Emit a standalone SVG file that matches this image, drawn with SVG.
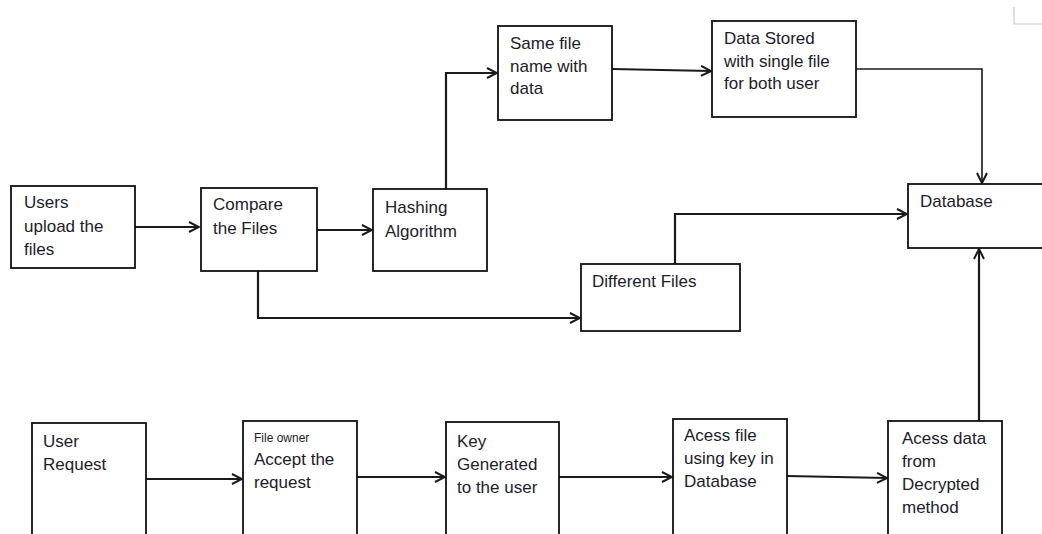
<svg xmlns="http://www.w3.org/2000/svg" width="1042" height="534" viewBox="0 0 1042 534">
  <style>
    .box { fill: #ffffff; stroke: #111111; stroke-width: 1.8; }
    .lbl { font-family: "Liberation Sans", Arial, sans-serif; font-size: 17px; fill: #1c1c2a; }
    .small { font-size: 12px; }
    .conn { fill: none; stroke: #1a1a1a; stroke-width: 2.2; }
    .thin { fill: none; stroke: #1a1a1a; stroke-width: 1.6; }
    .corner { fill: none; stroke: #c8c8c8; stroke-width: 1.2; }
  </style>
  <defs>
    <marker id="arrow" viewBox="0 0 12 12" refX="11" refY="6" markerWidth="12" markerHeight="12" markerUnits="userSpaceOnUse" orient="auto">
      <path d="M1,1 L11,6 L1,11" fill="none" stroke="#1a1a1a" stroke-width="2"/>
    </marker>
  </defs>

  <rect width="1042" height="534" fill="#ffffff"/>

  <!-- page corner mark -->
  <path class="corner" d="M1014,7 L1014,24 L1042,24"/>

  <!-- connectors -->
  <g id="connectors">
    <path class="conn" d="M135,227 L199,227" marker-end="url(#arrow)"/>
    <path class="conn" d="M314,230 L372,230" marker-end="url(#arrow)"/>
    <path class="conn" d="M446,189 L446,73 L497,73" marker-end="url(#arrow)"/>
    <path class="conn" d="M612,69 L711,71" marker-end="url(#arrow)"/>
    <path class="thin" d="M856,69 L982,69 L982,183" marker-end="url(#arrow)"/>
    <path class="conn" d="M258,271 L258,318 L580,318" marker-end="url(#arrow)"/>
    <path class="conn" d="M675,264 L675,214 L907,214" marker-end="url(#arrow)"/>
    <path class="conn" d="M979,421 L979,249" marker-end="url(#arrow)"/>
    <path class="conn" d="M146,479 L242,479" marker-end="url(#arrow)"/>
    <path class="conn" d="M357,477 L445,477" marker-end="url(#arrow)"/>
    <path class="conn" d="M559,477 L672,477" marker-end="url(#arrow)"/>
    <path class="conn" d="M787,476 L887,478" marker-end="url(#arrow)"/>
  </g>

  <g id="users-upload">
    <rect class="box" x="11" y="186" width="124" height="82"/>
    <text class="lbl" x="24" y="208">Users</text>
    <text class="lbl" x="24" y="232">upload the</text>
    <text class="lbl" x="24" y="255">files</text>
  </g>

  <g id="compare-files">
    <rect class="box" x="201" y="188" width="116" height="83"/>
    <text class="lbl" x="213" y="210">Compare</text>
    <text class="lbl" x="213" y="234">the Files</text>
  </g>

  <g id="hashing">
    <rect class="box" x="373" y="189" width="114" height="82"/>
    <text class="lbl" x="385" y="213">Hashing</text>
    <text class="lbl" x="385" y="237">Algorithm</text>
  </g>

  <g id="same-file">
    <rect class="box" x="498" y="26" width="114" height="94"/>
    <text class="lbl" x="510" y="49">Same file</text>
    <text class="lbl" x="510" y="72">name with</text>
    <text class="lbl" x="510" y="94">data</text>
  </g>

  <g id="data-stored">
    <rect class="box" x="712" y="21" width="144" height="96"/>
    <text class="lbl" x="724" y="44">Data Stored</text>
    <text class="lbl" x="724" y="67">with single file</text>
    <text class="lbl" x="724" y="89">for both user</text>
  </g>

  <g id="different-files">
    <rect class="box" x="581" y="264" width="159" height="67"/>
    <text class="lbl" x="592" y="287">Different Files</text>
  </g>

  <g id="database">
    <rect class="box" x="908" y="184" width="150" height="64"/>
    <text class="lbl" x="920" y="207">Database</text>
  </g>

  <g id="user-request">
    <rect class="box" x="32" y="423" width="114" height="130"/>
    <text class="lbl" x="43" y="447">User</text>
    <text class="lbl" x="43" y="470">Request</text>
  </g>

  <g id="file-owner">
    <rect class="box" x="243" y="421" width="114" height="130"/>
    <text class="lbl small" x="254" y="442">File owner</text>
    <text class="lbl" x="254" y="465">Accept the</text>
    <text class="lbl" x="254" y="488">request</text>
  </g>

  <g id="key-generated">
    <rect class="box" x="446" y="422" width="113" height="130"/>
    <text class="lbl" x="457" y="447">Key</text>
    <text class="lbl" x="457" y="470">Generated</text>
    <text class="lbl" x="457" y="493">to the user</text>
  </g>

  <g id="access-file">
    <rect class="box" x="673" y="419" width="114" height="130"/>
    <text class="lbl" x="684" y="441">Acess file</text>
    <text class="lbl" x="684" y="464">using key in</text>
    <text class="lbl" x="684" y="487">Database</text>
  </g>

  <g id="access-data">
    <rect class="box" x="888" y="421" width="114" height="130"/>
    <text class="lbl" x="902" y="444">Acess data</text>
    <text class="lbl" x="902" y="467">from</text>
    <text class="lbl" x="902" y="490">Decrypted</text>
    <text class="lbl" x="902" y="513">method</text>
  </g>
</svg>
